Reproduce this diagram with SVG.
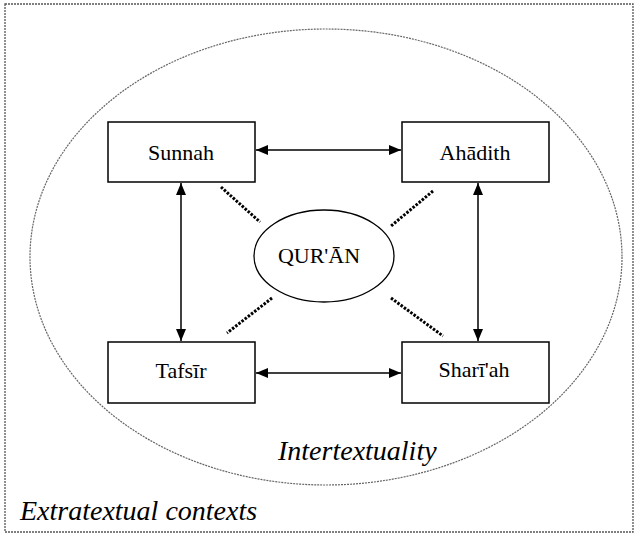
<svg xmlns="http://www.w3.org/2000/svg" width="638" height="534" viewBox="0 0 638 534">
  <defs>
    <marker id="ah" viewBox="0 0 12 10" refX="12" refY="5" markerWidth="12" markerHeight="10" markerUnits="userSpaceOnUse" orient="auto-start-reverse">
      <path d="M0,0 L12,5 L0,10 Z" fill="#000"/>
    </marker>
  </defs>
  <style>
    .box { fill: #fff; stroke: #000; stroke-width: 1.5; }
    .lbl { font-family: "Liberation Serif", "Times New Roman", serif; font-size: 22px; fill: #000; text-anchor: middle; }
    .ital { font-family: "Liberation Serif", "Times New Roman", serif; font-style: italic; font-size: 28px; fill: #000; }
    .arr { stroke: #000; stroke-width: 1.5; fill: none; marker-start: url(#ah); marker-end: url(#ah); }
    .dot { stroke: #000; stroke-width: 3; stroke-dasharray: 2.5 1.5; fill: none; }
  </style>
  <rect id="extratextual" x="5" y="4" width="628" height="528" fill="none" stroke="#555" stroke-width="1.3" stroke-dasharray="2 1"/>
  <ellipse id="intertextuality" cx="326" cy="257" rx="296" ry="228" fill="none" stroke="#666" stroke-width="1.2" stroke-dasharray="2 1"/>
  <g id="connectors">
    <line class="arr" x1="256" y1="150" x2="401" y2="150"/>
    <line class="arr" x1="256" y1="373" x2="401" y2="373"/>
    <line class="arr" x1="181" y1="183" x2="181" y2="341"/>
    <line class="arr" x1="478" y1="183" x2="478" y2="341"/>
    <line class="dot" x1="221" y1="187" x2="260" y2="222"/>
    <line class="dot" x1="433" y1="191" x2="391" y2="226"/>
    <line class="dot" x1="272" y1="298" x2="227" y2="333"/>
    <line class="dot" x1="391" y1="298" x2="443" y2="336"/>
  </g>
  <g id="quran">
    <ellipse cx="324" cy="256" rx="70" ry="46" fill="#fff" stroke="#000" stroke-width="1.3"/>
    <text class="lbl" x="319" y="263" font-size="21">QUR'ĀN</text>
  </g>
  <g id="sunnah">
    <rect class="box" x="108" y="122" width="147" height="60"/>
    <text class="lbl" x="181" y="160">Sunnah</text>
  </g>
  <g id="ahadith">
    <rect class="box" x="402" y="122" width="147" height="60"/>
    <text class="lbl" x="475" y="160">Ahādith</text>
  </g>
  <g id="tafsir">
    <rect class="box" x="108" y="342" width="147" height="61"/>
    <text class="lbl" x="181" y="378">Tafsīr</text>
  </g>
  <g id="shariah">
    <rect class="box" x="402" y="342" width="147" height="61"/>
    <text class="lbl" x="474" y="377">Sharī'ah</text>
  </g>
  <text class="ital" x="278" y="460">Intertextuality</text>
  <text class="ital" x="20" y="520">Extratextual contexts</text>
</svg>
